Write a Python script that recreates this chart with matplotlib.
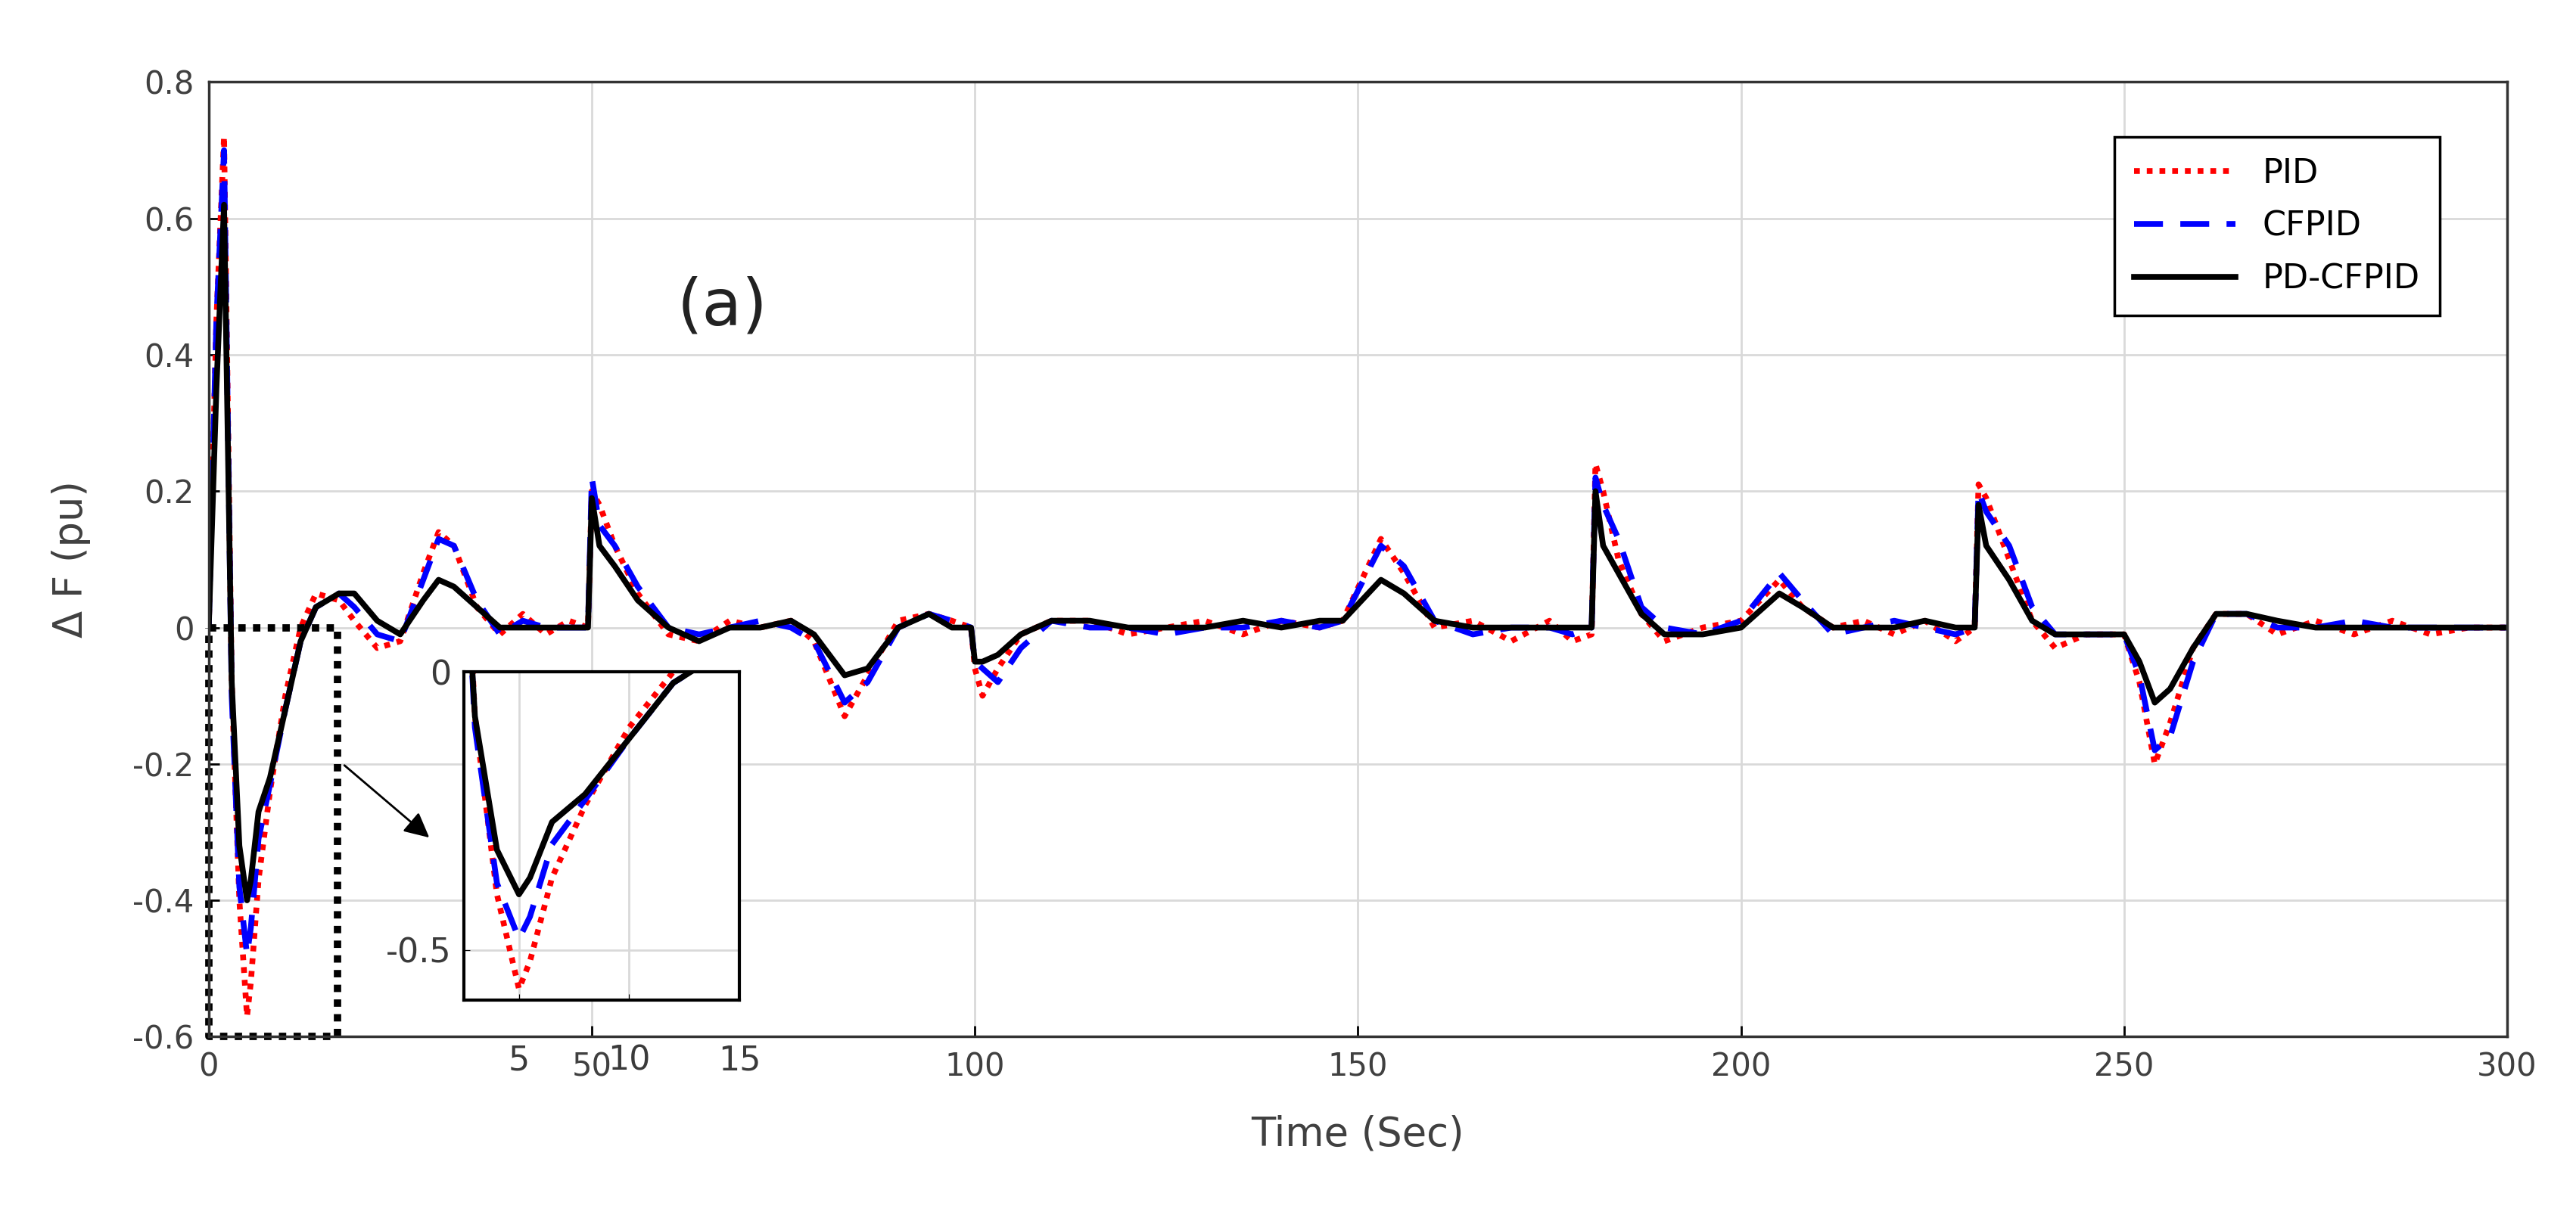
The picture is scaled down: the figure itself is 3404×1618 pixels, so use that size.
import matplotlib
matplotlib.use("Agg")
import matplotlib.pyplot as plt
from matplotlib.transforms import blended_transform_factory

plt.rcParams['axes.unicode_minus'] = False
plt.rcParams['font.family'] = ['DejaVu Sans']

t = [0,1,2,3,4,5,5.5,6.5,8,10,12,14,17,19,22,25,28,30,32,35,38,41,44,47,49.5,50,51,53,56,60,64,68,72,76,79,83,86,90,94,97,99.5,100,101,103,106,110,115,120,125,130,135,140,145,148,153,156,160,165,170,175,178,180.5,181,182,184,187,190,195,200,205,208,212,216,220,224,228,230.5,231,232,235,238,241,245,250,252,254,256,259,262,266,270,275,280,285,290,295,300]
pid = [0,0.45,0.72,-0.08,-0.40,-0.57,-0.52,-0.37,-0.24,-0.10,0.0,0.05,0.04,0.01,-0.03,-0.02,0.08,0.14,0.12,0.03,-0.01,0.02,-0.01,0.01,0.0,0.2,0.18,0.12,0.05,-0.01,-0.02,0.01,0.0,0.01,-0.02,-0.13,-0.07,0.01,0.02,0.01,0.0,-0.06,-0.10,-0.06,-0.01,0.01,0.01,-0.01,0.0,0.01,-0.01,0.01,0.0,0.01,0.13,0.08,0.0,0.01,-0.02,0.01,-0.02,-0.01,0.24,0.2,0.1,0.02,-0.02,0.0,0.01,0.07,0.03,0.0,0.01,-0.01,0.01,-0.02,0.0,0.21,0.19,0.1,0.01,-0.03,-0.01,-0.01,-0.08,-0.2,-0.14,-0.03,0.02,0.02,-0.01,0.01,-0.01,0.01,-0.01,0.0,0.0]
cfpid = [0,0.45,0.70,-0.10,-0.38,-0.48,-0.44,-0.31,-0.23,-0.12,-0.02,0.03,0.05,0.03,-0.01,-0.02,0.07,0.13,0.12,0.04,-0.01,0.01,0.0,0.0,0.0,0.22,0.15,0.12,0.06,0.0,-0.01,0.0,0.01,0.0,-0.02,-0.11,-0.08,0.0,0.02,0.01,0.0,-0.05,-0.06,-0.08,-0.03,0.01,0.0,0.0,-0.01,0.0,0.0,0.01,0.0,0.01,0.12,0.09,0.01,-0.01,0.0,0.0,-0.01,0.0,0.22,0.18,0.13,0.03,0.0,-0.01,0.01,0.08,0.04,-0.01,0.0,0.01,0.0,-0.01,0.0,0.2,0.17,0.12,0.03,-0.01,-0.01,-0.01,-0.07,-0.18,-0.16,-0.05,0.02,0.02,0.0,0.0,0.01,0.0,0.0,0.0,0.0]
pdcfpid = [0,0.35,0.62,-0.08,-0.32,-0.40,-0.37,-0.27,-0.22,-0.12,-0.02,0.03,0.05,0.05,0.01,-0.01,0.04,0.07,0.06,0.03,0.0,0.0,0.0,0.0,0.0,0.19,0.12,0.09,0.04,0.0,-0.02,0.0,0.0,0.01,-0.01,-0.07,-0.06,0.0,0.02,0.0,0.0,-0.05,-0.05,-0.04,-0.01,0.01,0.01,0.0,0.0,0.0,0.01,0.0,0.01,0.01,0.07,0.05,0.01,0.0,0.0,0.0,0.0,0.0,0.20,0.12,0.08,0.02,-0.01,-0.01,0.0,0.05,0.03,0.0,0.0,0.0,0.01,0.0,0.0,0.18,0.12,0.07,0.01,-0.01,-0.01,-0.01,-0.05,-0.11,-0.09,-0.03,0.02,0.02,0.01,0.0,0.0,0.0,0.0,0.0,0.0]

labels = ['PID', 'CFPID', 'PD-CFPID']
yticks = [-0.6, -0.4, -0.2, 0, 0.2, 0.4, 0.6, 0.8]
xticks = [0, 50, 100, 150, 200, 250, 300]
inset_xticks = [5, 10, 15]
inset_yticks = [0, -0.5]

fig = plt.figure(figsize=(34.05, 16.18), dpi=100)
ax = fig.add_axes([0.081, 0.153, 0.892, 0.78])

def draw(a, lw=1.0):
    a.plot(t, pid, color='red', linestyle=(0, (1, 1.2)), lw=5.5*lw, label=labels[0])
    a.plot(t, cfpid, color='blue', linestyle=(0, (5, 3)), lw=5.5*lw, label=labels[1])
    a.plot(t, pdcfpid, color='black', linestyle='-', lw=5.5*lw, label=labels[2])

draw(ax)
ax.set_xlim(0, 300)
ax.set_ylim(-0.6, 0.8)
ax.set_xticks(xticks)
ax.set_yticks(yticks)
ax.set_yticklabels(['-0.6', '-0.4', '-0.2', '0', '0.2', '0.4', '0.6', '0.8'])
ax.grid(True, color='#d9d9d9', lw=2)
ax.tick_params(direction='in', length=10, width=2, labelsize=30, labelcolor='#404040', pad=14)
for s in ax.spines.values():
    s.set_linewidth(2.5)
    s.set_color('#333333')
ax.set_xlabel('Time (Sec)', fontsize=38, color='#404040', labelpad=30)
ax.set_ylabel('Δ F (pu)', fontsize=38, color='#404040', labelpad=40)
ax.text(67, 0.47, '(a)', fontsize=62, color='#222222', ha='center', va='center')
leg = ax.legend(loc='upper right', bbox_to_anchor=(0.978, 0.96), fontsize=32, fancybox=False,
                edgecolor='black', framealpha=1, handlelength=3.0, borderpad=0.6, labelspacing=0.6)
leg.get_frame().set_linewidth(2.5)

# dotted zoom rectangle
ax.plot([0, 16.8, 16.8, 0, 0], [0, 0, -0.6, -0.6, 0], color='black', linestyle=(0, (1, 1)), lw=7, clip_on=False)
ax.annotate('', xy=(29, -0.31), xytext=(17.5, -0.2),
            arrowprops=dict(arrowstyle='-|>', color='black', lw=2, mutation_scale=50))

# inset
ins = fig.add_axes([613/3405, 1 - 1322/1618, (977-613)/3405, (1322-888)/1618])
draw(ins, 1.0)
ins.set_xlim(2.5, 15)
ins.set_ylim(-0.59, 0)
ins.set_xticks(inset_xticks)
ins.set_yticks(inset_yticks)
ins.set_xticklabels([])
ins.set_yticklabels(['0', '-0.5'])
ins.grid(True, color='#d9d9d9', lw=2)
ins.tick_params(direction='in', length=6, labelsize=32, labelcolor='#3a3a3a', pad=12)
for s in ins.spines.values():
    s.set_linewidth(3)
tr = blended_transform_factory(ins.transData, ax.transAxes)
for v in inset_xticks:
    ax.text(v, -0.008, str(v), transform=tr, fontsize=32, color='#3a3a3a', ha='center', va='top')

fig.savefig('out.png', dpi=100, facecolor='white')
